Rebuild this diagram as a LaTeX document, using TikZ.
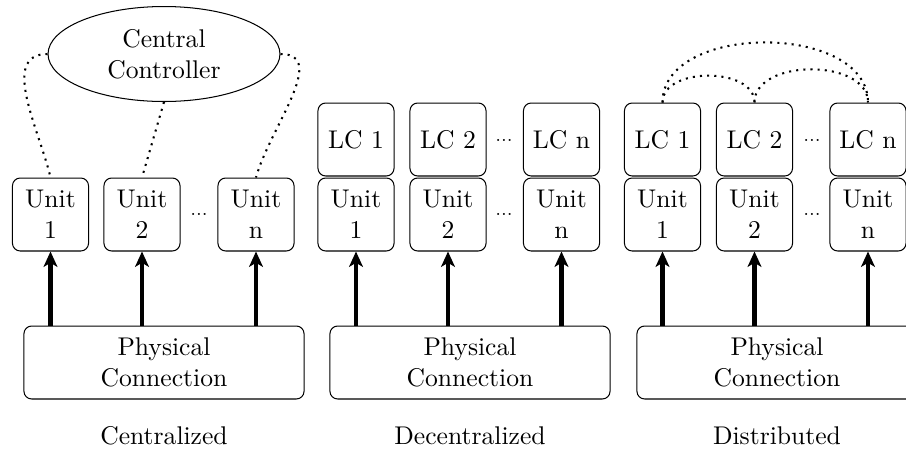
\documentclass[tikz,border=0pt]{standalone}
\usetikzlibrary{shapes.geometric,arrows.meta}
\begin{document}
\begin{tikzpicture}[x=0.3906pt,y=-0.3906pt,
  box/.style={draw,rounded corners=3pt,align=center,inner sep=0pt,minimum width=29.7pt,minimum height=28.5pt},
  pbox/.style={draw,rounded corners=3pt,align=center,inner sep=0pt,minimum width=109.4pt,minimum height=28.5pt},
  ctrl/.style={draw,ellipse,align=center,inner sep=0pt,minimum width=90.6pt,minimum height=37.1pt},
  arr/.style={-{Stealth[length=6pt,width=5.4pt,inset=1.6pt]},line width=1.6pt},
  dot/.style={dotted,thick},
  dd/.style={font=\scriptsize,inner sep=0pt}]
\clip (0,0) rectangle (906,455);
\useasboundingbox (0,0) rectangle (906,455);
% Centralized
\node[ctrl] (cc) at (164,54) {Central\\Controller};
\node[box] (u11) at (50.5,214.5) {Unit\\1};
\node[box] (u12) at (142,214.5) {Unit\\2};
\node[box] (u1n) at (256,214.5) {Unit\\n};
\node[dd] (d1) at (199,214) {...};
\node[pbox] (p1) at (164,362.5) {Physical\\Connection};
\node (l1) at (164,436) {Centralized};
\draw[dot] (cc.west) to[out=180,in=103] (u11.north);
\draw[dot] (cc.south) -- (u12.north);
\draw[dot] (cc.east) to[out=0,in=75] (u1n.north);
\draw[arr] (p1.north -| u11) -- (u11.south);
\draw[arr] (p1.north -| u12) -- (u12.south);
\draw[arr] (p1.north -| u1n) -- (u1n.south);
% Decentralized
\node[box] (c21) at (356,139.5) {LC 1};
\node[box] (c22) at (448,139.5) {LC 2};
\node[box] (c2n) at (561.5,139.5) {LC n};
\node[box] (u21) at (356,214.5) {Unit\\1};
\node[box] (u22) at (448,214.5) {Unit\\2};
\node[box] (u2n) at (561.5,214.5) {Unit\\n};
\node[dd] (e2) at (504,140) {...};
\node[dd] (d2) at (504,214) {...};
\node[pbox] (p2) at (470,362.5) {Physical\\Connection};
\node (l2) at (470,436) {Decentralized};
\draw[arr] (p2.north -| u21) -- (u21.south);
\draw[arr] (p2.north -| u22) -- (u22.south);
\draw[arr] (p2.north -| u2n) -- (u2n.south);
% Distributed
\node[box] (c31) at (662.5,139.5) {LC 1};
\node[box] (c32) at (754.5,139.5) {LC 2};
\node[box] (c3n) at (868,139.5) {LC n};
\node[box] (u31) at (662.5,214.5) {Unit\\1};
\node[box] (u32) at (754.5,214.5) {Unit\\2};
\node[box] (u3n) at (868,214.5) {Unit\\n};
\node[dd] (e3) at (812,140) {...};
\node[dd] (d3) at (812,214) {...};
\node[pbox] (p3) at (777,362.5) {Physical\\Connection};
\node (l3) at (777,436) {Distributed};
\draw[dot] (c31.north) to[out=90,in=90] (c32.north);
\draw[dot] (c32.north) to[out=90,in=90] (c3n.north);
\draw[dot] (c31.north) to[out=90,in=90] (c3n.north);
\draw[arr] (p3.north -| u31) -- (u31.south);
\draw[arr] (p3.north -| u32) -- (u32.south);
\draw[arr] (p3.north -| u3n) -- (u3n.south);
\end{tikzpicture}
\end{document}
